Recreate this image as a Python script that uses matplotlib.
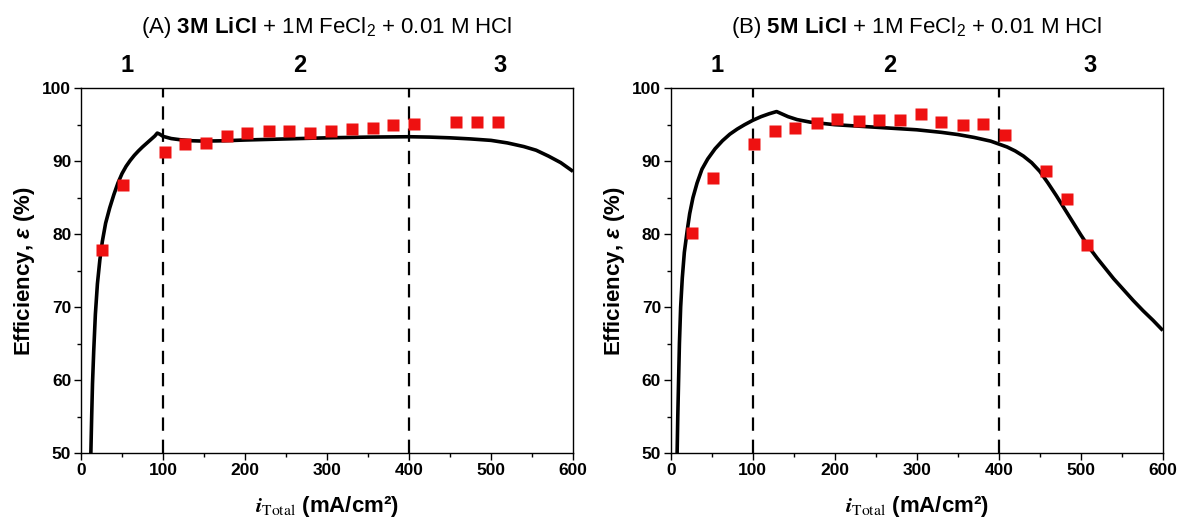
import matplotlib
matplotlib.use("Agg")
import matplotlib.pyplot as plt
from matplotlib.ticker import MultipleLocator

plt.rcParams['font.family'] = ['Liberation Sans', 'DejaVu Sans']
plt.rcParams['mathtext.fontset'] = 'custom'
plt.rcParams['mathtext.rm'] = 'Liberation Sans'
plt.rcParams['mathtext.bf'] = 'Liberation Sans:bold'
plt.rcParams['mathtext.it'] = 'Liberation Sans:italic:bold'

# ---- Data ----
# Panel A: 3M LiCl
expA_x = [25, 51, 102, 127, 152, 178, 203, 229, 254, 279, 305, 330, 356, 381, 406, 457, 483, 508]
expA_y = [77.8, 86.8, 91.2, 92.3, 92.5, 93.5, 93.9, 94.2, 94.1, 93.8, 94.1, 94.4, 94.6, 94.9, 95.1, 95.3, 95.3, 95.3]
modA_x = [12, 13, 14, 15.5, 17.5, 20, 23, 26, 30, 35, 40, 45, 50, 55, 60, 65, 70, 75, 80, 85, 90, 93,
          96, 100, 110, 120, 135, 150, 175, 200, 250, 300, 350, 400, 425, 450, 475, 500, 520, 540, 555, 570, 585, 600]
modA_y = [50, 55, 59.5, 64, 69, 73.2, 76.5, 79.0, 81.5, 83.6, 85.4, 87.0, 88.3, 89.3, 90.1, 90.8, 91.4, 91.95, 92.45, 92.95, 93.45, 93.85,
          93.7, 93.4, 93.1, 92.95, 92.8, 92.75, 92.8, 92.9, 93.05, 93.2, 93.3, 93.35, 93.3, 93.2, 93.05, 92.85, 92.5, 92.0, 91.5, 90.7, 89.8, 88.6]

# Panel B: 5M LiCl
expB_x = [26, 51, 102, 127, 152, 178, 203, 229, 254, 280, 305, 330, 356, 381, 407, 458, 483, 508]
expB_y = [80.2, 87.7, 92.4, 94.1, 94.5, 95.2, 95.8, 95.5, 95.6, 95.7, 96.4, 95.4, 94.9, 95.1, 93.6, 88.6, 84.8, 78.5]
modB_x = [7.7, 8.5, 9.5, 10.5, 12, 14, 16.5, 20, 23, 27, 32, 38, 45, 54, 63, 72, 81, 90, 100, 110, 120, 129,
          135, 143, 154, 170, 200, 250, 300, 330, 350, 370, 390, 400, 410, 420, 430, 440, 450, 460, 470, 480,
          490, 500, 510, 520, 530, 540, 552, 564, 576, 588, 600]
modB_y = [50, 55, 60, 65, 70, 74, 77.5, 80.5, 82.8, 85, 87, 88.9, 90.3, 91.7, 92.8, 93.7, 94.4, 95.0, 95.6, 96.1, 96.5, 96.8,
          96.5, 96.1, 95.7, 95.35, 95.0, 94.65, 94.3, 93.95, 93.65, 93.25, 92.75, 92.35, 91.95, 91.4, 90.7, 89.8, 88.6, 87.0, 85.3, 83.5,
          81.7, 79.9, 78.2, 76.7, 75.3, 73.9, 72.4, 70.9, 69.5, 68.2, 66.8]

titles = [r"(A) $\mathbf{3M\ LiCl}$ + 1M FeCl$_2$ + 0.01 M HCl",
          r"(B) $\mathbf{5M\ LiCl}$ + 1M FeCl$_2$ + 0.01 M HCl"]
regions = ["1", "2", "3"]
region_x = [56, 267, 511]
boundaries = [100, 400]

fig = plt.figure(figsize=(11.81, 5.25), dpi=100)
axA = fig.add_axes([0.0686, 0.137, 0.4166, 0.695])
axB = fig.add_axes([0.568, 0.137, 0.4166, 0.695])

panels = [(axA, expA_x, expA_y, modA_x, modA_y), (axB, expB_x, expB_y, modB_x, modB_y)]
for i, (ax, ex, ey, mx, my) in enumerate(panels):
    ax.plot(mx, my, color='black', lw=2.6, solid_capstyle='butt', solid_joinstyle='round', zorder=3)
    ax.plot(ex, ey, 's', color='#ee1111', ms=8.5, mec='none', zorder=4)
    for b in boundaries:
        ax.axvline(b, color='black', lw=1.6, ls=(0, (6, 4)), zorder=2)
    ax.set_xlim(0, 600)
    ax.set_ylim(50, 100)
    ax.xaxis.set_major_locator(MultipleLocator(100))
    ax.xaxis.set_minor_locator(MultipleLocator(50))
    ax.yaxis.set_major_locator(MultipleLocator(10))
    ax.yaxis.set_minor_locator(MultipleLocator(5))
    ax.tick_params(which='major', direction='out', length=5, width=1, labelsize=12.5, pad=2)
    ax.tick_params(which='minor', direction='out', length=3, width=1)
    for lab in ax.get_xticklabels() + ax.get_yticklabels():
        lab.set_fontweight('bold')
    for s in ax.spines.values():
        s.set_linewidth(1.0)
    ax.set_ylabel(r"Efficiency, $\mathit{\varepsilon}$ (%)", fontsize=16, fontweight='bold', labelpad=4)
    ax.set_xlabel(r"$\mathbfit{i}_{\mathrm{Total}}$ (mA/cm²)", fontsize=16, fontweight='bold',
                  labelpad=12, math_fontfamily='stix')
    ax.set_title(titles[i], fontsize=16, pad=40)
    for r, rx in zip(regions, region_x):
        ax.text(rx, 101.5, r, fontsize=17, fontweight='bold', ha='center', va='bottom')

fig.savefig("out.png", dpi=100)
